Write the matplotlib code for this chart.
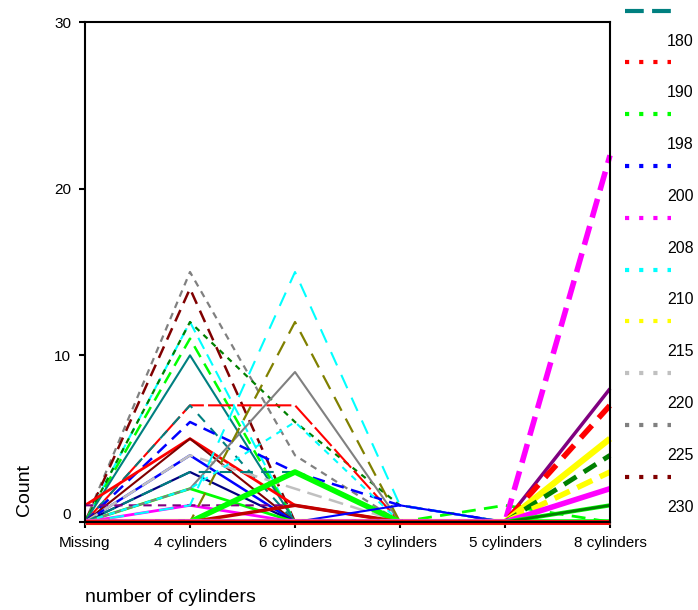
from matplotlib import pyplot as plt
from matplotlib.lines import Line2D
import numpy as np

plt.rcParams['font.family'] = ['Liberation Sans', 'DejaVu Sans']

categories = ["Missing", "4 cylinders", "6 cylinders", "3 cylinders", "5 cylinders", "8 cylinders"]

# counts per category for each group (Missing, 4, 6, 3, 5, 8 cylinders)
counts = [
    [0, 15, 4, 0, 0, 0],
    [0, 14, 0, 0, 0, 0],
    [0, 12, 0, 0, 0, 0],
    [0, 11, 0, 0, 0, 0],
    [0, 12, 6, 1, 0, 0],
    [0, 10, 0, 0, 0, 0],
    [0, 7, 7, 0, 0, 0],
    [0, 7, 0, 0, 0, 0],
    [0, 6, 3, 1, 0, 0],
    [1, 5, 1, 0, 0, 0],
    [0, 5, 0, 0, 0, 0],
    [0, 4, 0, 0, 0, 0],
    [0, 3, 0, 0, 0, 0],
    [0, 2, 0, 0, 0, 0],
    [0, 1, 0, 0, 0, 0],
    [1, 1, 1, 0, 0, 0],
    [0, 4, 2, 0, 0, 0],
    [0, 2, 9, 0, 0, 0],
    [0, 0, 12, 0, 0, 0],
    [0, 1, 15, 1, 0, 0],
    [0, 2, 6, 0, 0, 0],
    [0, 3, 3, 0, 0, 0],
    [0, 0, 3, 0, 0, 0],
    [0, 0, 1, 0, 0, 0],
    [0, 0, 0, 0, 1, 0],
    [0, 0, 0, 1, 0, 1],
    [0, 0, 0, 0, 0, 22],
    [0, 0, 0, 0, 0, 8],
    [0, 0, 0, 0, 0, 7],
    [0, 0, 0, 0, 0, 5],
    [0, 0, 0, 0, 0, 4],
    [0, 0, 0, 0, 0, 3],
    [0, 0, 0, 0, 0, 2],
    [0, 0, 0, 0, 0, 1],
    [0, 0, 0, 0, 0, 1],
    [0, 0, 0, 0, 0, 0],
    [0, 0, 0, 0, 0, 0],
]

# (color, linestyle, linewidth) for each group above
styles = [
    ("#808080", (0, (3, 2.5)), 1.6),
    ("#800000", (0, (5, 3)), 1.8),
    ("#00ffff", (0, (6, 3)), 1.5),
    ("#00ff00", (0, (5, 3)), 1.8),
    ("#008000", (0, (2.5, 2.5)), 1.6),
    ("#008080", "-", 1.5),
    ("#ff0000", (0, (12, 2)), 1.5),
    ("#008080", (0, (5, 4)), 1.5),
    ("#0000ff", (0, (5, 3)), 1.8),
    ("#ff0000", "-", 2.0),
    ("#800000", "-", 1.5),
    ("#0000ff", "-", 1.8),
    ("#000080", "-", 1.6),
    ("#00ff00", "-", 2.0),
    ("#ff00ff", "-", 2.0),
    ("#800080", (0, (4, 3)), 1.5),
    ("#c0c0c0", (0, (6, 3)), 1.8),
    ("#808080", "-", 1.5),
    ("#808000", (0, (7, 4)), 1.6),
    ("#00ffff", (0, (7, 5)), 1.5),
    ("#00ffff", (0, (3, 3)), 1.5),
    ("#008080", (0, (6, 4)), 1.5),
    ("#00ff00", "-", 4.0),
    ("#c00000", "-", 2.5),
    ("#00ff00", (0, (5, 3)), 2.0),
    ("#0000ff", "-", 1.5),
    ("#ff00ff", (0, (3.5, 1.6)), 4.0),
    ("#800080", "-", 2.5),
    ("#ff0000", (0, (3, 1.8)), 4.0),
    ("#ffff00", "-", 4.5),
    ("#008000", (0, (3, 1.8)), 3.5),
    ("#ffff00", (0, (3, 1.5)), 4.0),
    ("#ff00ff", "-", 4.0),
    ("#00ff00", "-", 3.0),
    ("#008000", "-", 2.0),
    ("#00ffff", "-", 3.5),
    ("#ff0000", "-", 3.5),
]

legend_labels = ["180", "190", "198", "200", "208", "210", "215", "220", "225", "230"]
legend_styles = [
    ("#008080", (0, (4.5, 2))),
    ("#ff0000", (0, (1, 2.4))),
    ("#00ff00", (0, (1, 2.4))),
    ("#0000ff", (0, (1, 2.4))),
    ("#ff00ff", (0, (1, 2.4))),
    ("#00ffff", (0, (1, 2.4))),
    ("#ffff00", (0, (1, 2.4))),
    ("#c0c0c0", (0, (1, 2.4))),
    ("#808080", (0, (1, 2.4))),
    ("#800000", (0, (1, 2.4))),
]

fig = plt.figure(figsize=(6.98, 6.10), dpi=100)
ax = fig.add_axes([85/698, 1 - 522/610, 525/698, 500/610])

x = np.arange(len(categories))
for c, (col, ls, lw) in zip(counts, styles):
    ax.plot(x, c, color=col, linestyle=ls, linewidth=lw, clip_on=False,
            solid_capstyle='butt', dash_capstyle='butt')

ax.set_xlim(0, len(categories) - 1)
ax.set_ylim(0, 30)
ax.set_yticks([0, 10, 20, 30])
ax.set_xticks(x)
ax.set_xticklabels(categories, fontsize=11)
ax.tick_params(axis='both', direction='out', length=4, width=1.5, color='black')
ax.tick_params(axis='y', labelsize=11, pad=6)
ax.tick_params(axis='x', pad=6)
ax.get_yticklabels()[0].set_verticalalignment('bottom')
for s in ax.spines.values():
    s.set_linewidth(1.5)
    s.set_color('black')

fig.text(25/698, 1 - 490/610, "Count", rotation=90, fontsize=14, ha='center', va='center')
fig.text(85/698, 1 - 597/610, "number of cylinders", fontsize=14, ha='left', va='center')

# legend, partially cut off on the right as in the original
for i, (lab, (col, ls)) in enumerate(zip(legend_labels, legend_styles)):
    ys = 1 - (10.5 + 51.8*i)/610
    fig.add_artist(Line2D([625/698, 671/698], [ys, ys], transform=fig.transFigure,
                          color=col, linestyle=ls, linewidth=3, dash_capstyle='butt'))
    yt = 1 - (41 + 51.8*i)/610
    fig.text(667/698, yt, lab, fontsize=11.5, ha='left', va='center')

plt.savefig("out.png", dpi=100)
